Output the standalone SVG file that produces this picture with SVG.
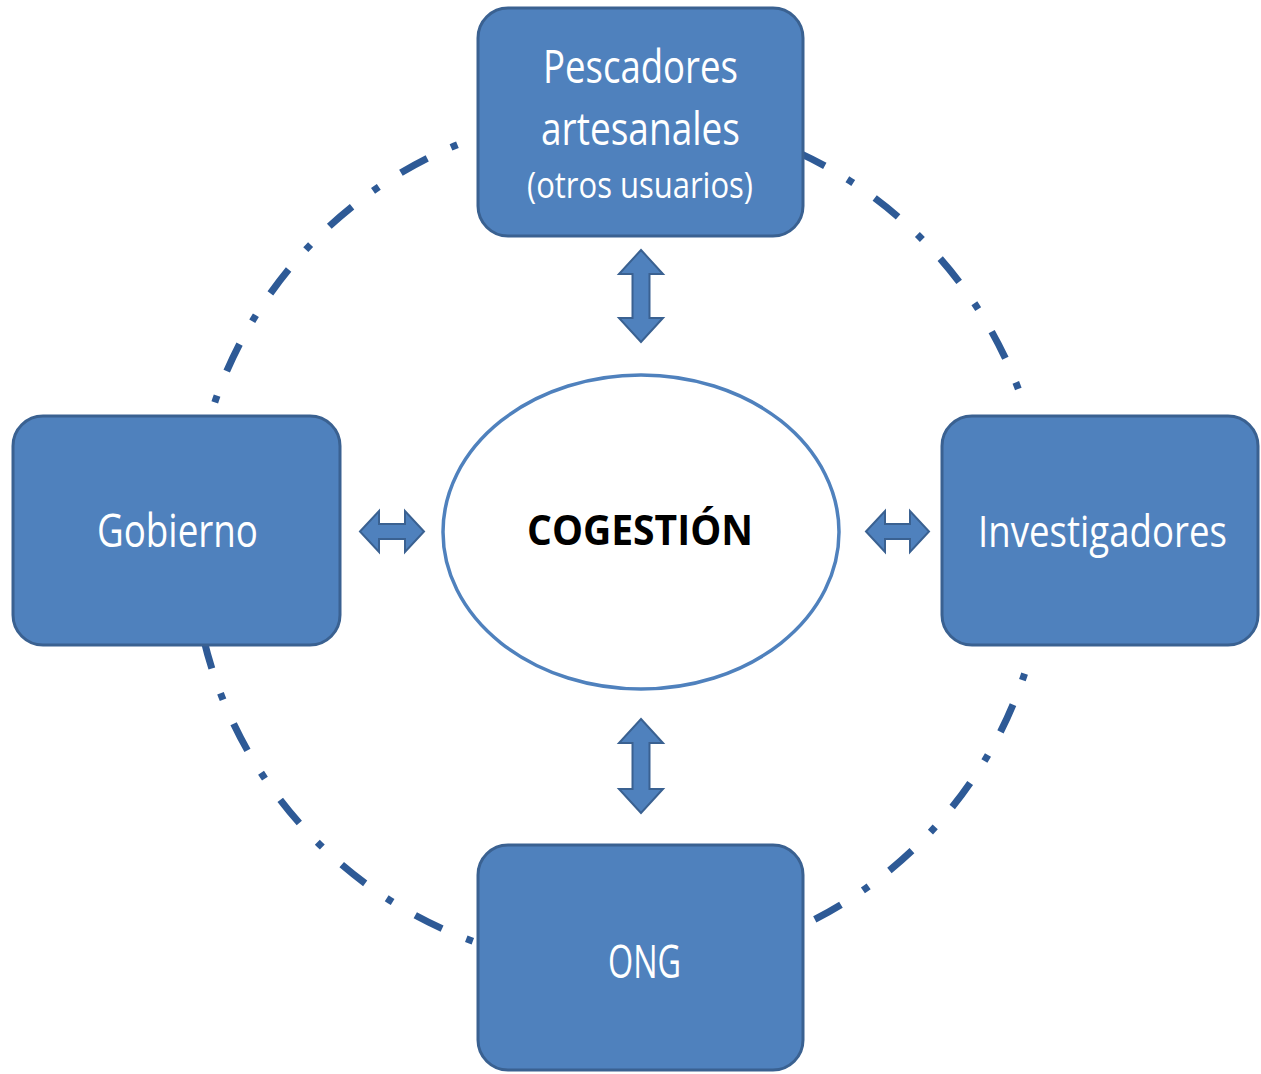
<svg xmlns="http://www.w3.org/2000/svg" width="1261" height="1074" viewBox="0 0 1261 1074">
<style>
.ring{fill:none;stroke:#2E5A96;stroke-width:7;stroke-dasharray:7 26.2 30 26.2;stroke-linecap:butt}
.box{fill:#4F81BD;stroke:#3A6191;stroke-width:3}
.arr{fill:#4F81BD;stroke:#3A6191;stroke-width:2;stroke-linejoin:miter}
.lbl{font-family:"Open Sans","Liberation Sans",sans-serif;fill:#FFFFFF;text-anchor:middle}
.core{font-family:"Open Sans","Liberation Sans",sans-serif;font-weight:bold;fill:#000000;text-anchor:middle}
</style>
<rect width="1261" height="1074" fill="#FFFFFF"/>
<g id="connectors">
<path class="ring" d="M 680.9 117.5 A 427 427 0 0 1 1026.2 411.6"/>
<path class="ring" d="M 1024.6 673.6 A 427 427 0 0 1 693.1 960.5"/>
<path class="ring" d="M 559.4 962.8 A 427 427 0 0 1 198.5 465.9"/>
<path class="ring" d="M 195 489.2 A 427 427 0 0 1 656.2 114.6"/>
<polygon class="arr" points="641,250 663,274 649.5,274 649.5,318 663,318 641,342 619,318 632.5,318 632.5,274 619,274"/>
<polygon class="arr" points="641,719 663,743 649.5,743 649.5,789 663,789 641,813 619,789 632.5,789 632.5,743 619,743"/>
<polygon class="arr" points="360,531.5 379,511 379,524 405,524 405,511 424,531.5 405,552 405,539 379,539 379,552"/>
<polygon class="arr" points="866,531.5 885,511 885,524 910,524 910,511 929,531.5 910,552 910,539 885,539 885,552"/>
</g>
<g id="node-pescadores">
<rect class="box" x="478" y="8" width="325" height="228" rx="30" ry="30"/>
<text class="lbl" x="640.5" y="83" font-size="46" textLength="195" lengthAdjust="spacingAndGlyphs">Pescadores</text>
<text class="lbl" x="640.5" y="145" font-size="46" textLength="199" lengthAdjust="spacingAndGlyphs">artesanales</text>
<text class="lbl" x="640" y="198" font-size="36" textLength="226" lengthAdjust="spacingAndGlyphs">(otros usuarios)</text>
</g>
<g id="node-gobierno">
<rect class="box" x="13" y="416" width="327" height="229" rx="30" ry="30"/>
<text class="lbl" x="177.5" y="547" font-size="45" textLength="161" lengthAdjust="spacingAndGlyphs">Gobierno</text>
</g>
<g id="node-investigadores">
<rect class="box" x="942" y="416" width="316" height="229" rx="30" ry="30"/>
<text class="lbl" x="1102.5" y="547" font-size="44" textLength="249" lengthAdjust="spacingAndGlyphs">Investigadores</text>
</g>
<g id="node-ong">
<rect class="box" x="478" y="845" width="325" height="225" rx="30" ry="30"/>
<text class="lbl" x="644.5" y="978" font-size="46" textLength="73" lengthAdjust="spacingAndGlyphs">ONG</text>
</g>
<g id="node-cogestion">
<ellipse cx="641" cy="532" rx="198" ry="157" fill="#FFFFFF" stroke="#4F81BD" stroke-width="3.5"/>
<text class="core" x="640" y="545" font-size="42" textLength="226" lengthAdjust="spacingAndGlyphs">COGESTIÓN</text>
</g>
</svg>
